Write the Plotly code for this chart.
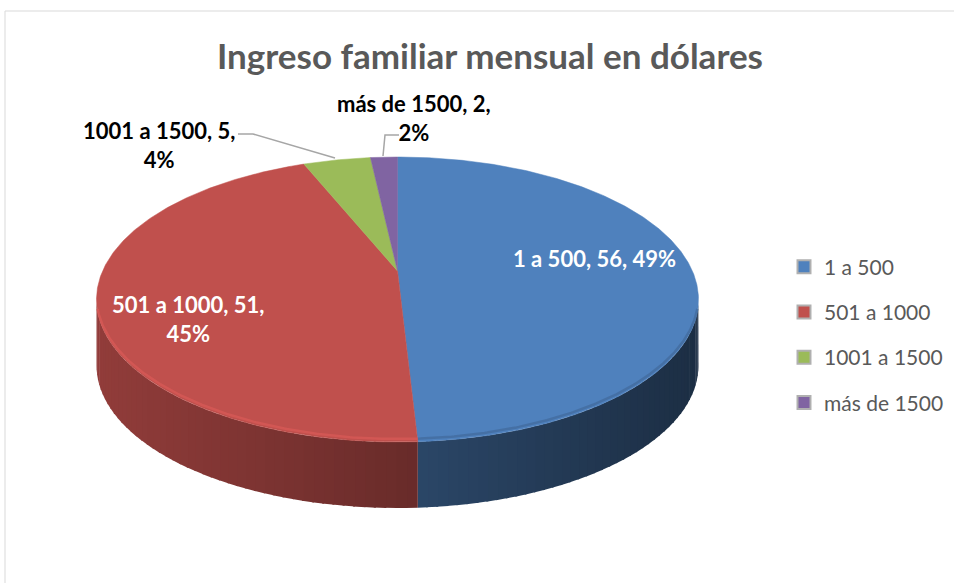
import numpy as np
import plotly.graph_objects as go

# ---------------- data ----------------
categories = ["1 a 500", "501 a 1000", "1001 a 1500", "más de 1500"]
values = [56, 51, 5, 2]
slice_colors = ["#4f81bd", "#c0504d", "#9bbb59", "#8064a2"]
label_colors = ["white", "white", "black", "black"]
title_text = "Ingreso familiar mensual en dólares"

# ---------------- geometry of the tilted pie (pixels) ----------------
CX, CY, A, B, DEPTH, E = 397.5, 299.5, 301.0, 142.5, 66.0, 0.2


def warp(theta_deg):
    """perspective warp of an angle on the pie circle (0 = back/top, clockwise)"""
    if theta_deg >= 360 - 1e-9:
        return 360.0
    t = np.radians(theta_deg)
    s, c = np.sin(t), np.cos(t)
    xp = np.sqrt(1 - E * E) * s / (1 + E * c)
    zp = (c + E) / (1 + E * c)
    return float(np.degrees(np.arctan2(xp, zp)) % 360)


def edge(phi_deg, dy=0.0):
    p = np.radians(np.asarray(phi_deg, dtype=float))
    return CX + A * np.sin(p), CY - B * np.cos(p) + dy


def arc(a0, a1, step=1.0):
    n = max(2, int(np.ceil(abs(a1 - a0) / step)) + 1)
    return np.linspace(a0, a1, n)


def shade(hex_color, f):
    h = hex_color.lstrip("#")
    r, g, b = (int(h[i:i + 2], 16) for i in (0, 2, 4))
    return "rgb(%d,%d,%d)" % (min(255, r * f), min(255, g * f), min(255, b * f))


total = float(sum(values))
cum = np.concatenate([[0.0], np.cumsum(values)]) / total * 360.0
starts = [warp(a) for a in cum[:-1]]
ends = [warp(a) for a in cum[1:]]
apex = (CX, CY - B * E)

fig = go.Figure()

# side walls (front half only), shaded strips
for i, col in enumerate(slice_colors):
    lo, hi = max(starts[i], 90.0), min(ends[i], 270.0)
    if hi <= lo:
        continue
    edges_ = arc(lo, hi, 2.0)
    for a0, a1 in zip(edges_[:-1], edges_[1:]):
        ph = arc(a0, a1 + 0.4 if a1 < hi else a1, 0.5)
        xt, yt = edge(ph)
        xb, yb = edge(ph[::-1], DEPTH)
        mid = np.radians((a0 + a1) / 2)
        f = 0.56 - 0.2 * np.sin(mid)
        fig.add_trace(go.Scatter(
            x=np.concatenate([xt, xb]), y=np.concatenate([yt, yb]),
            fill="toself", mode="lines", line=dict(width=0),
            fillcolor=shade(col, f), hoverinfo="skip", showlegend=False))

# top faces
for i, col in enumerate(slice_colors):
    ph = arc(starts[i], ends[i], 0.5)
    xs, ys = edge(ph)
    fig.add_trace(go.Scatter(
        x=np.concatenate([[apex[0]], xs, [apex[0]]]),
        y=np.concatenate([[apex[1]], ys, [apex[1]]]),
        fill="toself", mode="lines", line=dict(width=0.5, color=col),
        fillcolor=col, hoverinfo="skip", showlegend=False))

# bevel rim along the visible front edge
for i, col in enumerate(slice_colors):
    lo, hi = max(starts[i], 95.0), min(ends[i], 265.0)
    if hi <= lo:
        continue
    xs, ys = edge(arc(lo, hi, 0.5), -3)
    fig.add_trace(go.Scatter(x=xs, y=ys, mode="lines",
                             line=dict(width=2.5, color=shade(col, 1.12 if i == 1 else 0.85)),
                             opacity=0.8, hoverinfo="skip", showlegend=False))

# legend entries
for cat, col in zip(categories, slice_colors):
    fig.add_trace(go.Scatter(
        x=[None], y=[None], mode="markers", name=cat, legendgroup=cat,
        marker=dict(symbol="square", size=13, color=col,
                    line=dict(color="#b0b0b0", width=2))))

# data labels
pct = [int(round(v / total * 100)) for v in values]
label_pos = [(594, 258), (188, 319), (159, 145), (414, 118)]
label_text = [
    "%s, %d, %d%%" % (categories[0], values[0], pct[0]),
    "%s, %d,<br>%d%%" % (categories[1], values[1], pct[1]),
    "%s, %d,<br>%d%%" % (categories[2], values[2], pct[2]),
    "%s, %d,<br>%d%%" % (categories[3], values[3], pct[3]),
]
for (x, y), t, c in zip(label_pos, label_text, label_colors):
    fig.add_annotation(x=x, y=y, xref="x", yref="y", text=t, showarrow=False,
                       align="center", xanchor="center", yanchor="middle",
                       font=dict(family="Lato", size=22, color=c, weight="bold"))

shapes = [
    dict(type="line", x0=5, y0=11, x1=954, y1=11, line=dict(color="#d9d9d9", width=1)),
    dict(type="line", x0=5, y0=11, x1=5, y1=583, line=dict(color="#d9d9d9", width=1)),
    dict(type="path", path="M 238 134 L 253 134 L 335 158", line=dict(color="#a6a6a6", width=1.5)),
    dict(type="path", path="M 399 135 L 385 135 L 383 156", line=dict(color="#a6a6a6", width=1.5)),
]

fig.update_layout(
    width=954, height=583,
    margin=dict(l=0, r=0, t=0, b=0),
    paper_bgcolor="white", plot_bgcolor="white",
    title=dict(text=title_text, x=490 / 954, xanchor="center",
               y=1 - 57 / 583, yanchor="middle",
               font=dict(family="Lato", size=35, color="#595959", weight="bold")),
    xaxis=dict(range=[0, 954], visible=False, fixedrange=True),
    yaxis=dict(range=[583, 0], visible=False, fixedrange=True),
    showlegend=True,
    legend=dict(x=784 / 954, xanchor="left", y=1 - 335 / 583, yanchor="middle",
                font=dict(family="Lato", size=21, color="#595959"),
                tracegroupgap=15, traceorder="grouped", bgcolor="rgba(0,0,0,0)"),
    shapes=shapes,
)

fig.write_html("out.html", config={"displayModeBar": False},
               post_script="document.body.style.margin='0';")
